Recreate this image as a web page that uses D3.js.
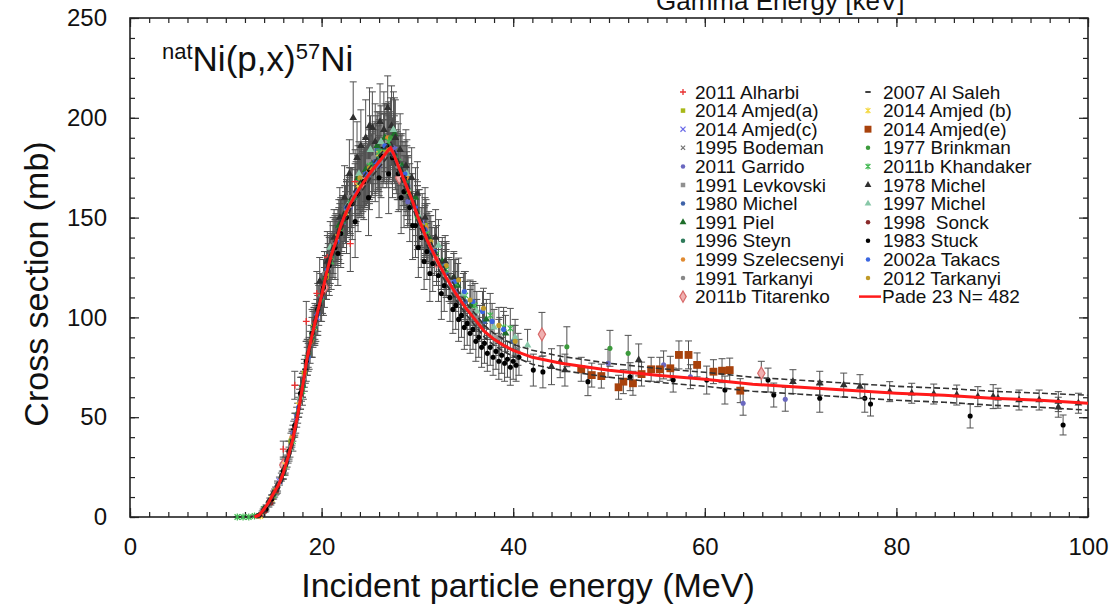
<!DOCTYPE html>
<html><head><meta charset="utf-8">
<script src="https://cdn.jsdelivr.net/npm/d3@7"></script>
<style>
html,body{margin:0;padding:0;background:#fff;}
svg{display:block;font-family:"Liberation Sans",Arial,Helvetica,sans-serif;}
</style></head><body>
<svg id="chart" width="1112" height="606"></svg>
<script>
// ---------- tick labels ----------
const xTicks = [0, 20, 40, 60, 80, 100];
const yTicks = [0, 50, 100, 150, 200, 250];

// ---------- Pade fit ----------
const padeE = [13.0,13.5,14,14.5,15,15.5,16,16.5,17,17.5,18,18.5,19,19.5,20,20.5,21,21.5,22,22.5,23,24,25,26,26.5,27,27.2,27.5,28,28.5,29,29.5,30,30.5,31,32,33,34,35,36,37,38,39,40,42,45,50,55,60,65,70,75,80,85,90,95,100];
const padeS = [0,1,4,7.5,12,16,22,30,39,51,65,80,91,101,111,122,131,138,146,152,157,165,172,178,181,184,185,182,176,170,164,158,151,145,139,129,120,112,105,99,93,89,86,83.5,80,77,73.5,71,69,66.5,65,63.5,62,61,59.5,58.5,57];
const bandUp = [0.5,2,5.5,9.5,14,18.5,25,33,42,54,68,83,94,104,114,125,134,141,149,155,160,168,175,181,184,187,188,185,179,173,167,161,154,148,142,132,123,115,108,102,96,92,89,86.5,83.5,80.5,77,74.5,72.5,70,68.5,67,65.5,64.5,63,62,61];
const bandLo = [0,0,2.5,5.5,10,13.5,19,27,36,48,62,77,88,98,108,119,128,135,143,149,154,162,169,175,178,181,182,179,173,167,161,155,148,142,136,126,117,109,102,96,90,86,83,80.5,76.5,73.5,70,67.5,65.5,63,61.5,60,58.5,57.5,56,55,53.5];

// ---------- experimental data [E (MeV), sigma (mb), dsigma] ----------
const alharbi2011 = [[13.8,2,1],[14.6,8,1.5],[16.0,34,4],[17.2,66,7],[18.4,98,10],[19.5,112,11],[20.6,130,13],[23.0,137,14],[23.5,168,16]];
const alSaleh2007 = [[15.9,21,2],[17.1,44,4],[18.3,74,7],[19.7,106,10],[21.9,144,13],[24.4,169,15],[26.5,185,17],[28.6,170,16]];
const amjedA2014 = [[15.2,13,2],[16.8,38,4],[18.2,72,7],[20.5,122,11],[22.5,150,13],[24.5,170,15],[26.5,183,16],[28.5,172,16],[30.8,146,14]];
const amjedB2014 = [[13.6,0.5,0.5],[14.8,9,2],[16.2,26,4],[17.6,56,6],[19.2,95,9],[21.5,140,12],[23.8,166,15],[26.0,182,17]];
const amjedC2014 = [[15.6,18,2],[17.4,50,5],[19.5,100,9],[22.2,148,13],[24.8,172,15],[27.6,184,17],[30.5,148,14],[33.5,118,11]];
const amjedE2014 = [[47.1,74.0,6],[48.2,71.1,6],[49.2,70.6,6],[51.0,65.0,6],[51.5,67.8,6],[52.5,67.0,6],[53.4,71.6,6],[54.4,74.0,6],[55.3,74.0,6],[56.4,74.5,6],[57.3,81.2,7],[58.3,81.2,7],[59.2,76.2,6],[60.9,72.8,6],[61.8,73.3,6],[62.6,73.6,6],[63.7,63.3,6]];
const bodeman1995 = [[14.2,5,1],[16.5,30,3],[18.8,85,8],[19.9,112,10],[21.8,142,13],[23.1,160,15],[25.2,176,16],[27.0,185,17],[28.8,166,15],[30.8,143,13],[32.5,125,11],[34.5,110,10],[36.5,97,9],[38.6,91,9],[40.5,84,8]];
const brinkman1977 = [[16.2,25,4],[18.5,80,9],[21.2,135,15],[24.2,168,18],[27.2,190,20],[30.0,150,16],[33.8,120,13],[45.6,85.3,10],[50.1,84.5,9],[52.0,82.0,9]];
const garrido2011 = [[17.0,42,4],[18.5,78,7],[20.0,110,9],[21.5,138,12],[23.0,155,13],[24.5,170,15],[26.0,176,15],[27.5,185,17],[29.0,158,13],[31.0,140,12],[34.0,113,10],[49.9,77.0,7],[55.7,76.2,7],[58.5,70.3,6],[64.0,57.0,6],[68.4,59.0,6]];
const khandaker2011b = [[11.2,0,0.2],[11.8,0,0.2],[12.4,0,0.2],[13.0,0.5,0.3],[14.0,4,1],[15.0,11,2],[16.0,22,3],[17.0,38,5],[18.0,63,7],[19.0,90,10],[20.0,110,12],[21.0,128,14],[22.0,143,16],[23.0,158,17],[24.0,168,18],[25.0,176,19],[26.0,183,20],[27.0,188,20],[28.0,178,19],[29.0,163,17],[30.0,152,16],[31.0,142,15],[32.0,132,14],[33.0,124,13],[34.0,117,12],[35.0,111,12],[36.0,106,11],[37.6,101,11],[39.0,95,10],[39.7,94.5,10]];
const levkovski1991 = [[14.5,6,1],[16.1,24,3],[17.7,58,6],[18.2,70,7],[19.3,96,9],[20.7,125,12],[21.2,134,12],[22.9,160,15],[23.5,162,15],[24.9,178,17],[25.8,180,17],[26.9,188,18],[28.2,176,16],[29.0,165,16],[30.2,150,14],[31.5,135,13],[33.0,122,12],[35.5,104,10],[38.5,90,9]];
const michel1978 = [[19.8,118,12],[20.6,128,13],[21.3,140,14],[21.9,150,15],[22.4,160,16],[22.9,172,17],[23.3,200,18],[23.7,180,18],[24.1,186,18],[24.6,190,19],[25.0,196,19],[25.3,195,18],[25.6,188,19],[26.1,198,19],[26.5,194,19],[26.9,205,16],[27.3,196,20],[27.7,190,19],[28.2,184,18],[28.8,176,18],[29.4,170,15],[30.0,162,16],[30.8,150,15],[31.9,140,14],[32.9,128,13],[33.8,120,12],[44.0,75.3,9],[44.9,77.8,8],[45.4,73.6,8],[53.1,78.7,8],[69.2,67.8,6],[72.0,67.0,6],[74.5,66.1,6],[76.2,65.3,6],[79.3,62.8,5],[81.6,62.0,5],[83.9,61.6,5],[86.3,61.1,5],[88.5,60.3,5],[90.1,60.3,6],[90.6,59.5,5],[92.8,58.6,5],[94.9,58.6,5],[96.9,57.8,5],[96.9,55.0,5],[99.0,57.0,5]];
const michel1980 = [[18.0,66,6],[20.8,128,12],[22.0,146,14],[24.0,166,15],[25.8,184,17],[27.8,178,16],[29.0,166,15],[31.5,133,12],[33.0,122,11],[35.0,108,10],[37.0,98,9],[40.0,88,8]];
const michel1997 = [[16.7,34,4],[17.8,60,6],[19.1,94,9],[20.9,135,13],[22.7,156,15],[23.9,172,16],[25.1,184,17],[26.2,188,18],[27.5,194,19],[28.9,172,17],[30.0,152,14],[32.2,136,13],[34.8,112,10],[36.2,103,10],[38.0,95,9],[40.2,90,9],[41.5,86,8]];
const piel1991 = [[18.0,66,6],[19.2,96,9],[20.4,120,11],[21.8,146,13],[22.4,152,14],[23.8,170,16],[24.6,174,16],[25.8,186,17],[26.6,190,17],[27.6,192,18],[28.4,176,16],[29.8,160,15],[31.2,140,13],[32.6,128,12],[34.2,116,11],[35.6,106,10],[37.2,99,10],[39.2,92,9]];
const sonck1998 = [[13.4,0.5,0.3],[14.1,3,0.6],[14.7,7,1],[15.3,13,1.5],[15.8,20,2],[16.6,32,3],[17.2,45,4],[17.9,64,6],[18.6,82,7],[19.3,98,9],[20.1,112,10],[22.1,146,13]];
const steyn1996 = [[13.9,3,1],[15.1,12,2],[16.3,27,3],[16.9,39,4],[17.5,52,5],[18.1,66,7],[18.7,82,8],[19.3,95,9],[19.9,108,10],[20.5,120,11],[21.1,131,12],[21.7,141,13],[22.3,148,13],[22.9,157,14],[23.5,160,14],[24.1,167,15],[24.7,171,15],[25.3,177,16],[25.9,180,16],[26.5,185,17],[27.1,186,17],[27.7,181,17],[28.3,175,16],[28.9,168,15],[29.5,158,14],[30.1,150,14],[31.3,138,13],[32.5,126,12]];
const stuck1983 = [[13.5,1,0.5],[14.2,4,1],[14.8,9,2],[15.4,15,3],[16.0,23,4],[16.6,33,5],[17.2,46,6],[17.8,62,8],[18.4,78,10],[19.0,92,12],[19.6,104,13],[20.2,115,14],[20.8,126,15],[21.4,135,16],[21.7,132,16],[22.0,142,17],[22.6,150,18],[23.2,157,18],[23.5,148,18],[23.8,162,19],[24.4,168,19],[24.9,160,19],[25.0,174,20],[25.6,178,20],[26.0,170,20],[26.2,181,21],[26.8,186,21],[27.0,172,20],[27.4,180,20],[28.0,172,19],[28.3,160,18],[28.6,163,18],[29.2,155,17],[29.5,146,17],[29.8,146,16],[30.1,135,15],[30.4,140,15],[30.7,128,14],[31.0,133,14],[31.3,122,14],[31.6,127,14],[32.2,121,13],[32.5,112,13],[32.8,116,13],[33.4,110,12],[33.7,104,12],[34.0,106,12],[34.3,99,11],[34.6,101,11],[34.9,95,11],[35.2,97,11],[35.5,92,10],[35.8,94,10],[36.1,88,10],[36.4,90,10],[36.7,85,10],[37.0,87,10],[37.3,82,9],[37.6,85,9],[37.9,80,9],[38.2,83,9],[38.5,78,9],[38.8,81,9],[39.1,77,9],[39.4,79,9],[39.7,75,9],[40.0,78,9],[40.3,76,8],[40.6,80,9],[42.1,73.6,8],[43.1,72.7,8],[47.8,67.8,7],[52.2,70.3,7],[56.7,68.6,6],[60.2,68.6,7],[62.1,63.6,7],[66.6,68.6,6],[67.2,61.1,6],[72.0,59.5,7],[76.7,59.5,7],[77.3,56.6,6],[87.7,50.6,6],[97.4,46.1,5]];
const szelecsenyi1999 = [[14.9,10,1],[16.9,40,4],[18.9,88,8],[20.9,129,12],[22.9,156,14],[24.9,173,15],[26.9,190,17],[28.9,170,16],[30.9,145,14]];
const takacs2002a = [[16.4,28,3],[17.6,55,5],[18.6,80,7],[19.6,102,9],[20.6,124,11],[21.6,138,12],[22.6,155,14],[23.6,163,15],[24.6,172,16],[25.6,178,16],[26.6,186,17],[27.4,182,17],[28.7,172,16],[29.8,155,14],[30.8,144,13],[31.8,133,12],[32.9,126,12],[33.9,118,11],[34.9,113,10],[35.8,108,10],[36.8,103,10],[37.8,98,9],[39.0,94,9]];
const tarkanyi1991 = [[15.4,15,2],[17.3,47,5],[19.4,97,9],[20.3,122,11],[21.4,137,12],[22.6,154,14],[24.2,170,15],[25.4,180,17],[26.4,182,17],[27.9,176,17],[30.7,142,13],[33.3,119,11],[36.2,100,9]];
const tarkanyi2012 = [[20.5,120,11],[22.5,152,14],[24.0,170,16],[25.0,175,16],[27.0,184,17],[29.2,162,15],[31.4,138,13],[33.0,126,12],[34.3,118.7,11],[35.5,108.7,10],[36.9,104.6,10],[38.5,96,9],[40.2,88,8]];
const titarenko2011b = [[16.0,26,3],[20.3,115,10],[24.3,168,15],[28.1,170,16],[32.0,128,12],[43.0,91.5,11],[65.9,72.0,6]];

// ---------- series styling ----------
const series = [
  {name:"2011 Alharbi", data:alharbi2011, color:"#e83030", shape:"plus", col:0},
  {name:"2014 Amjed(a)", data:amjedA2014, color:"#a8b818", shape:"square", col:0},
  {name:"2014 Amjed(c)", data:amjedC2014, color:"#6a6ae8", shape:"x", col:0},
  {name:"1995 Bodeman", data:bodeman1995, color:"#707070", shape:"xs", col:0},
  {name:"2011 Garrido", data:garrido2011, color:"#6a68c0", shape:"circle", col:0},
  {name:"1991 Levkovski", data:levkovski1991, color:"#909090", shape:"square", col:0},
  {name:"1980 Michel", data:michel1980, color:"#3e62a8", shape:"circle", col:0},
  {name:"1991 Piel", data:piel1991, color:"#1e6e2a", shape:"triangle", col:0},
  {name:"1996 Steyn", data:steyn1996, color:"#2e7a5a", shape:"circle", col:0},
  {name:"1999 Szelecsenyi", data:szelecsenyi1999, color:"#e08a30", shape:"circle", col:0},
  {name:"1991 Tarkanyi", data:tarkanyi1991, color:"#888888", shape:"circle", col:0},
  {name:"2011b Titarenko", data:titarenko2011b, color:"#d86a6a", shape:"diamond", col:0},
  {name:"2007 Al Saleh", data:alSaleh2007, color:"#111111", shape:"dash", col:1},
  {name:"2014 Amjed (b)", data:amjedB2014, color:"#f4d840", shape:"star", col:1},
  {name:"2014 Amjed(e)", data:amjedE2014, color:"#a8420c", shape:"bigsquare", col:1},
  {name:"1977 Brinkman", data:brinkman1977, color:"#3c9a3c", shape:"circle", col:1},
  {name:"2011b Khandaker", data:khandaker2011b, color:"#40b850", shape:"asterisk", col:1},
  {name:"1978 Michel", data:michel1978, color:"#303030", shape:"triangle", col:1},
  {name:"1997 Michel", data:michel1997, color:"#88c8a8", shape:"triangle", col:1},
  {name:"1998  Sonck", data:sonck1998, color:"#8a2a2a", shape:"circle", col:1},
  {name:"1983 Stuck", data:stuck1983, color:"#000000", shape:"circle", col:1},
  {name:"2002a Takacs", data:takacs2002a, color:"#3a66e0", shape:"circle", col:1},
  {name:"2012 Tarkanyi", data:tarkanyi2012, color:"#c09a28", shape:"circle", col:1}
];

const L = 130, R = 1088, T = 18, B = 517;
const svg = d3.select("#chart");
const x = d3.scaleLinear().domain([0, 100]).range([L, R]);
const y = d3.scaleLinear().domain([0, 250]).range([B, T]);

function drawMarker(g, shape, cx, cy, color, s) {
  if (shape === "plus") {
    g.append("path").attr("d", `M${cx-s},${cy}H${cx+s}M${cx},${cy-s}V${cy+s}`).attr("stroke", color).attr("stroke-width", 1.3).attr("fill", "none");
  } else if (shape === "x" || shape === "xs") {
    const k = shape === "xs" ? s*0.7 : s*0.85;
    g.append("path").attr("d", `M${cx-k},${cy-k}L${cx+k},${cy+k}M${cx-k},${cy+k}L${cx+k},${cy-k}`).attr("stroke", color).attr("stroke-width", 1.2).attr("fill", "none");
  } else if (shape === "asterisk" || shape === "star") {
    const k = s*0.8;
    g.append("path").attr("d", `M${cx-k},${cy-k}L${cx+k},${cy+k}M${cx-k},${cy+k}L${cx+k},${cy-k}M${cx},${cy-s}V${cy+s}`).attr("stroke", color).attr("stroke-width", 1.2).attr("fill", "none");
  } else if (shape === "dash") {
    g.append("path").attr("d", `M${cx-s*0.9},${cy}H${cx+s*0.9}`).attr("stroke", color).attr("stroke-width", 1.6);
  } else if (shape === "square") {
    const k = s*0.75;
    g.append("rect").attr("x", cx-k).attr("y", cy-k).attr("width", 2*k).attr("height", 2*k).attr("fill", color);
  } else if (shape === "bigsquare") {
    const k = s*1.15;
    g.append("rect").attr("x", cx-k).attr("y", cy-k).attr("width", 2*k).attr("height", 2*k).attr("fill", color);
  } else if (shape === "circle") {
    g.append("circle").attr("cx", cx).attr("cy", cy).attr("r", s*0.75).attr("fill", color);
  } else if (shape === "triangle") {
    g.append("path").attr("d", d3.symbol(d3.symbolTriangle, s*s*2.2)()).attr("transform", `translate(${cx},${cy})`).attr("fill", color);
  } else if (shape === "diamond") {
    g.append("path").attr("d", d3.symbol(d3.symbolDiamond, s*s*4)()).attr("transform", `translate(${cx},${cy})`).attr("fill", "#f0b0b0").attr("stroke", color).attr("stroke-width", 1.2);
  }
}

// ---------- frame ----------
svg.append("rect").attr("x", L).attr("y", T).attr("width", R-L).attr("height", B-T)
  .attr("fill", "none").attr("stroke", "#222").attr("stroke-width", 1.6);

// ---------- axes (inward ticks) ----------
const xMinor = d3.range(0, 101, 2);
const yMinor = d3.range(0, 251, 10);
function styleAxis(g) {
  g.select(".domain").remove();
  g.selectAll(".tick line").attr("stroke", "#222").attr("stroke-width", 1.2);
  g.selectAll("text").attr("fill", "#111").attr("font-family", '"Liberation Sans",Arial,sans-serif');
}
svg.append("g").attr("transform", `translate(0,${B})`)
  .call(d3.axisBottom(x).tickValues(xMinor).tickSize(-5).tickFormat("")).call(styleAxis);
svg.append("g").attr("transform", `translate(0,${B})`)
  .call(d3.axisBottom(x).tickValues(xTicks).tickSize(-9).tickPadding(21).tickFormat(d3.format("d")))
  .call(styleAxis).selectAll("text").attr("font-size", 24);
svg.append("g").attr("transform", `translate(0,${T})`)
  .call(d3.axisTop(x).tickValues(xMinor).tickSize(-5).tickFormat("")).call(styleAxis);
svg.append("g").attr("transform", `translate(0,${T})`)
  .call(d3.axisTop(x).tickValues(xTicks).tickSize(-9).tickFormat("")).call(styleAxis);
svg.append("g").attr("transform", `translate(${L},0)`)
  .call(d3.axisLeft(y).tickValues(yMinor).tickSize(-5).tickFormat("")).call(styleAxis);
svg.append("g").attr("transform", `translate(${L},0)`)
  .call(d3.axisLeft(y).tickValues(yTicks).tickSize(-9).tickPadding(23).tickFormat(d3.format("d")))
  .call(styleAxis).selectAll("text").attr("font-size", 24);
svg.append("g").attr("transform", `translate(${R},0)`)
  .call(d3.axisRight(y).tickValues(yMinor).tickSize(-5).tickFormat("")).call(styleAxis);
svg.append("g").attr("transform", `translate(${R},0)`)
  .call(d3.axisRight(y).tickValues(yTicks).tickSize(-9).tickFormat("")).call(styleAxis);

// ---------- error bars ----------
const eb = svg.append("g").attr("stroke", "#262626").attr("stroke-width", 1).attr("fill", "none").attr("opacity", 0.8);
series.forEach(s => {
  s.data.forEach(d => {
    const cx = x(d[0]), y1 = y(d[1] + d[2]), y0 = y(Math.max(0, d[1] - d[2]));
    eb.append("path").attr("d", `M${cx},${y0}V${y1}M${cx-3.5},${y1}H${cx+3.5}M${cx-3.5},${y0}H${cx+3.5}`);
  });
});

// ---------- markers ----------
const mk = svg.append("g");
series.forEach(s => {
  s.data.forEach(d => drawMarker(mk, s.shape, x(d[0]), y(d[1]), s.color, 3.4));
});

// ---------- Pade fit with uncertainty band ----------
const line = d3.line().x(d => x(d[0])).y(d => y(d[1]));
const up = padeE.map((e, i) => [e, bandUp[i]]);
const lo = padeE.map((e, i) => [e, bandLo[i]]);
const fit = padeE.map((e, i) => [e, padeS[i]]);
svg.append("path").attr("d", line(up)).attr("fill", "none").attr("stroke", "#333").attr("stroke-width", 1.6).attr("stroke-dasharray", "6,3");
svg.append("path").attr("d", line(lo)).attr("fill", "none").attr("stroke", "#333").attr("stroke-width", 1.6).attr("stroke-dasharray", "6,3");
svg.append("path").attr("d", line(fit)).attr("fill", "none").attr("stroke", "#ff1a1a").attr("stroke-width", 3);

// ---------- legend ----------
const lg = svg.append("g").attr("font-size", 19).attr("fill", "#111");
const colMarkX = [683, 868], colTextX = [695, 883];
const rowY0 = 92, rowDy = 18.6;
const rowsUsed = [0, 0];
series.forEach(s => {
  const r = rowsUsed[s.col]++;
  const yy = rowY0 + r * rowDy;
  drawMarker(lg, s.shape, colMarkX[s.col], yy, s.color, 3);
  lg.append("text").attr("x", colTextX[s.col]).attr("y", yy).attr("dy", "0.35em")
    .attr("xml:space", "preserve").style("white-space", "pre").text(s.name);
});
{
  const yy = rowY0 + rowsUsed[1] * rowDy;
  lg.append("path").attr("d", `M859,${yy}H881`).attr("stroke", "#ff1a1a").attr("stroke-width", 2.5);
  lg.append("text").attr("x", 882).attr("y", yy).attr("dy", "0.35em").text("Pade 23 N= 482");
}

// ---------- titles ----------
const rx = svg.append("text").attr("x", 162).attr("y", 71).attr("fill", "#111");
rx.append("tspan").attr("font-size", 22).attr("dy", -12).text("nat");
rx.append("tspan").attr("font-size", 35).attr("dy", 12).text("Ni(p,x)");
rx.append("tspan").attr("font-size", 22).attr("dy", -12).text("57");
rx.append("tspan").attr("font-size", 35).attr("dy", 12).text("Ni");

svg.append("text").attr("x", 528).attr("y", 597).attr("text-anchor", "middle")
  .attr("font-size", 34).attr("fill", "#111").text("Incident particle energy (MeV)");
svg.append("text").attr("transform", "translate(48,284) rotate(-90)").attr("text-anchor", "middle")
  .attr("font-size", 34).attr("fill", "#111").text("Cross section (mb)");
svg.append("text").attr("x", 656).attr("y", 10).attr("font-size", 26).attr("fill", "#111").text("Gamma Energy [keV]");
</script>
</body></html>
